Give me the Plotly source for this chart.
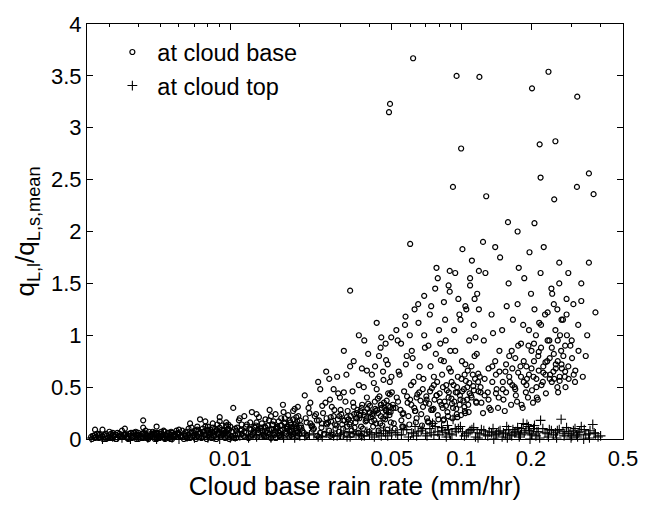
import math
import plotly.graph_objects as go

# ---- data: cloud base (circles) ----
base_x = [
    0.0025, 0.0026, 0.0027, 0.0028, 0.0029, 0.0030, 0.0031, 0.0032, 0.0033, 0.0034,
    0.0035, 0.0036, 0.0037, 0.0038, 0.0039, 0.0040, 0.0041, 0.0042, 0.0043, 0.0044,
    0.0045, 0.0046, 0.0047, 0.0048, 0.0049, 0.0050, 0.0051, 0.0052, 0.0053, 0.0054,
    0.0055, 0.0056, 0.0057, 0.0058, 0.0059, 0.0026, 0.0029, 0.0032, 0.0036, 0.0040,
    0.0044, 0.0048, 0.0052, 0.0056, 0.0027, 0.0031, 0.0035, 0.0039, 0.0043, 0.0047,
    0.00255, 0.00265, 0.00275, 0.00285, 0.00295, 0.00305, 0.00315, 0.00325, 0.00335, 0.00345,
    0.00355, 0.00365, 0.00375, 0.00385, 0.00395, 0.00405, 0.00415, 0.00425, 0.00435, 0.00445,
    0.00455, 0.00465, 0.00475, 0.00485, 0.00495, 0.00505, 0.00515, 0.00525, 0.00535, 0.00545,
    0.00555, 0.00565, 0.00575, 0.00585, 0.00595, 0.0026, 0.0030, 0.0034, 0.0038, 0.0042,
    0.0060, 0.0062, 0.0064, 0.0066, 0.0068, 0.0070, 0.0072, 0.0074, 0.0076, 0.0078,
    0.0080, 0.0082, 0.0084, 0.0086, 0.0088, 0.0090, 0.0092, 0.0094, 0.0096, 0.0098,
    0.0061, 0.0065, 0.0069, 0.0073, 0.0077, 0.0081, 0.0085, 0.0089, 0.0093, 0.0097,
    0.0063, 0.0067, 0.0071, 0.0075, 0.0079, 0.0083, 0.0087, 0.0091, 0.0095, 0.0099,
    0.0067, 0.0072, 0.0078, 0.0084, 0.0090, 0.0096, 0.0042, 0.0048, 0.0035, 0.0028,
    0.0060, 0.0062, 0.0064, 0.0066, 0.0068, 0.0070, 0.0072, 0.0074, 0.0076, 0.0078,
    0.0080, 0.0082, 0.0084, 0.0086, 0.0088, 0.0090, 0.0092, 0.0094, 0.0096, 0.0098,
    0.0100, 0.0103, 0.0106, 0.0109, 0.0112, 0.0115, 0.0118, 0.0121, 0.0124, 0.0127,
    0.0130, 0.0133, 0.0136, 0.0139, 0.0142, 0.0145, 0.0148, 0.0151, 0.0154, 0.0157,
    0.0160, 0.0163, 0.0166, 0.0169, 0.0172, 0.0175, 0.0178, 0.0181, 0.0184, 0.0187,
    0.0190, 0.0193, 0.0196, 0.0199, 0.0101, 0.0108, 0.0116, 0.0124, 0.0132, 0.0140,
    0.0148, 0.0156, 0.0164, 0.0172, 0.0180, 0.0188, 0.0196, 0.0104, 0.0120, 0.0135,
    0.0150, 0.0165, 0.0180, 0.0195, 0.0112, 0.0128, 0.0144, 0.0160, 0.0176, 0.0192,
    0.0102, 0.0107, 0.0112, 0.0117, 0.0122, 0.0127, 0.0132, 0.0137, 0.0142, 0.0147,
    0.0152, 0.0157, 0.0162, 0.0167, 0.0172, 0.0177, 0.0182, 0.0187, 0.0192, 0.0197,
    0.0105, 0.0115, 0.0125, 0.0135, 0.0145, 0.0155, 0.0165, 0.0175, 0.0185, 0.0195,
    0.0110, 0.0130, 0.0150, 0.0170, 0.0190, 0.0123, 0.0143, 0.0163, 0.0183, 0.0199,
    0.020, 0.021, 0.022, 0.023, 0.024, 0.025, 0.026, 0.027, 0.028, 0.029,
    0.030, 0.031, 0.032, 0.033, 0.034, 0.035, 0.036, 0.037, 0.038, 0.039,
    0.040, 0.041, 0.042, 0.043, 0.044, 0.045, 0.046, 0.047, 0.048, 0.049,
    0.0205, 0.0225, 0.0245, 0.0265, 0.0285, 0.0305, 0.0325, 0.0345, 0.0365, 0.0385,
    0.0405, 0.0425, 0.0445, 0.0465, 0.0485, 0.0215, 0.0255, 0.0295, 0.0335, 0.0375,
    0.0415, 0.0455, 0.0495, 0.0235, 0.0275, 0.0315, 0.0355, 0.0395, 0.0435, 0.0475,
    0.033, 0.036, 0.043, 0.047, 0.026, 0.039, 0.045, 0.031, 0.028, 0.049,
    0.0202, 0.0212, 0.0222, 0.0232, 0.0242, 0.0252, 0.0262, 0.0272, 0.0282, 0.0292,
    0.0302, 0.0312, 0.0322, 0.0332, 0.0342, 0.0352, 0.0362, 0.0372, 0.0382, 0.0392,
    0.0402, 0.0412, 0.0422, 0.0432, 0.0442, 0.0452, 0.0462, 0.0472, 0.0482, 0.0492,
    0.0208, 0.0228, 0.0248, 0.0268, 0.0288, 0.0308, 0.0328, 0.0348, 0.0368, 0.0388,
    0.0408, 0.0428, 0.0448, 0.0468, 0.0488, 0.0218, 0.0258, 0.0298, 0.0338, 0.0378,
    0.0418, 0.0458, 0.0498, 0.0238, 0.0278, 0.0318, 0.0358, 0.0398, 0.0438, 0.0478,
    0.050, 0.052, 0.054, 0.056, 0.058, 0.060, 0.062, 0.064, 0.066, 0.068,
    0.070, 0.072, 0.074, 0.076, 0.078, 0.080, 0.082, 0.084, 0.086, 0.088,
    0.090, 0.092, 0.094, 0.096, 0.098, 0.100, 0.102, 0.104, 0.106, 0.108,
    0.110, 0.112, 0.114, 0.116, 0.118, 0.051, 0.055, 0.059, 0.063, 0.067,
    0.071, 0.075, 0.079, 0.083, 0.087, 0.091, 0.095, 0.099, 0.103, 0.107,
    0.053, 0.057, 0.061, 0.065, 0.069, 0.073, 0.077, 0.081, 0.085, 0.089,
    0.093, 0.097, 0.101, 0.105, 0.109, 0.113, 0.117, 0.060, 0.078, 0.088,
    0.111, 0.115, 0.119, 0.056, 0.072, 0.084, 0.096, 0.104, 0.064, 0.076,
    0.0505, 0.0525, 0.0545, 0.0565, 0.0585, 0.0605, 0.0625, 0.0645, 0.0665, 0.0685,
    0.0705, 0.0725, 0.0745, 0.0765, 0.0785, 0.0805, 0.0825, 0.0845, 0.0865, 0.0885,
    0.0905, 0.0925, 0.0945, 0.0965, 0.0985, 0.1005, 0.1025, 0.1045, 0.1065, 0.1085,
    0.1105, 0.1125, 0.1145, 0.1165, 0.1185, 0.0515, 0.0555, 0.0595, 0.0635, 0.0675,
    0.0715, 0.0755, 0.0795, 0.0835, 0.0875, 0.0915, 0.0955, 0.0995, 0.1035, 0.1075,
    0.0535, 0.0575, 0.0615, 0.0655, 0.0695, 0.0735, 0.0775, 0.0815, 0.0855, 0.0895,
    0.0618, 0.0491, 0.0486, 0.0953, 0.1196, 0.0997, 0.0919, 0.128,
    0.120, 0.125, 0.130, 0.135, 0.140, 0.145, 0.150, 0.155, 0.160, 0.165,
    0.170, 0.175, 0.180, 0.185, 0.190, 0.195, 0.200, 0.205, 0.210, 0.215,
    0.220, 0.225, 0.230, 0.235, 0.240, 0.245, 0.250, 0.255, 0.260, 0.265,
    0.270, 0.275, 0.280, 0.285, 0.290, 0.300, 0.310, 0.320, 0.330, 0.345,
    0.122, 0.132, 0.142, 0.152, 0.162, 0.172, 0.182, 0.192, 0.202, 0.212,
    0.222, 0.232, 0.242, 0.252, 0.262, 0.272, 0.282, 0.127, 0.147, 0.167,
    0.187, 0.207, 0.227, 0.247, 0.267, 0.137, 0.157, 0.177, 0.197, 0.217,
    0.121, 0.126, 0.131, 0.136, 0.141, 0.146, 0.151, 0.156, 0.161, 0.166,
    0.171, 0.176, 0.181, 0.186, 0.191, 0.196, 0.201, 0.206, 0.211, 0.216,
    0.221, 0.226, 0.231, 0.236, 0.241, 0.246, 0.251, 0.256, 0.261, 0.266,
    0.124, 0.134, 0.144, 0.154, 0.164, 0.174, 0.184, 0.194, 0.204, 0.214,
    0.271, 0.281, 0.291, 0.301, 0.311, 0.321, 0.335, 0.350, 0.285, 0.260,
    0.238, 0.202, 0.317, 0.218, 0.255, 0.220, 0.356, 0.316, 0.373, 0.252,
    0.159, 0.207, 0.356, 0.380, 0.330, 0.140, 0.175, 0.290, 0.305, 0.265,
    0.0081, 0.0087, 0.0093, 0.0099, 0.0105, 0.0111, 0.0117, 0.0123, 0.0129, 0.0135,
    0.0141, 0.0147, 0.0153, 0.0159, 0.0165, 0.0171, 0.0177, 0.0183, 0.0189, 0.0195,
    0.0203, 0.0214, 0.0226, 0.0237, 0.0249, 0.0261, 0.0273, 0.0284, 0.0296, 0.0308,
    0.0319, 0.0331, 0.0343, 0.0354, 0.0366, 0.0378, 0.0389, 0.0401, 0.0413, 0.0424,
    0.0436, 0.0448, 0.0459, 0.0471, 0.0483, 0.0494, 0.0507, 0.0532, 0.0557, 0.0582,
    0.0607, 0.0632, 0.0657, 0.0682, 0.0707, 0.0732, 0.0757, 0.0782, 0.0807, 0.0832,
    0.0857, 0.0882, 0.0907, 0.0932, 0.0957, 0.0982, 0.1007, 0.1032, 0.1057, 0.1082,
    0.1107, 0.1132, 0.1157, 0.1182, 0.1210, 0.1260, 0.1310, 0.1360, 0.1410, 0.1460,
    0.1510, 0.1560, 0.1610, 0.1660, 0.1710, 0.1760, 0.1810, 0.1860, 0.1910, 0.1960,
    0.2010, 0.2060, 0.2110, 0.2160, 0.2210, 0.2260, 0.2310, 0.2360, 0.2410, 0.2460,
    0.2510, 0.2560, 0.2610, 0.2660, 0.2710, 0.2760, 0.2810, 0.2860, 0.2960, 0.3060,
    0.0222, 0.0245, 0.0268, 0.0293, 0.0318, 0.0342, 0.0371, 0.0395, 0.0423, 0.0447,
    0.0472, 0.0497, 0.0523, 0.0548, 0.0573, 0.0598, 0.0627, 0.0652, 0.0690, 0.0740,
    0.0790, 0.0840, 0.0890, 0.0940, 0.0990, 0.1040, 0.1090, 0.1140, 0.1190, 0.1240,
    0.0106, 0.0131, 0.0157, 0.0186, 0.0214, 0.0242, 0.0271, 0.0303, 0.0336, 0.0369,
    0.00252, 0.00262, 0.00272, 0.00282, 0.00292, 0.00302, 0.00312, 0.00322, 0.00332, 0.00342,
    0.00352, 0.00362, 0.00372, 0.00382, 0.00392, 0.00402, 0.00412, 0.00422, 0.00432, 0.00442,
    0.00452, 0.00462, 0.00472, 0.00482, 0.00492, 0.00502, 0.00512, 0.00522, 0.00532, 0.00542,
    0.00552, 0.00572, 0.00592, 0.00612, 0.00632, 0.00652, 0.00672, 0.00692, 0.00712, 0.00732,
    0.00752, 0.00772, 0.00792, 0.00812, 0.00832, 0.00852, 0.00872, 0.00892, 0.00912, 0.00932,
    0.00952, 0.00972, 0.00992, 0.0114, 0.0126, 0.0138, 0.0153, 0.0168, 0.0181, 0.0194,
]
base_y = [
    0.02, 0.04, 0.01, 0.03, 0.05, 0.02, 0.01, 0.04, 0.03, 0.02,
    0.05, 0.01, 0.03, 0.02, 0.04, 0.06, 0.02, 0.01, 0.05, 0.03,
    0.02, 0.04, 0.06, 0.01, 0.03, 0.05, 0.02, 0.07, 0.03, 0.01,
    0.04, 0.06, 0.02, 0.03, 0.05, 0.01, 0.00, 0.00, 0.01, 0.00,
    0.01, 0.00, 0.01, 0.00, 0.05, 0.06, 0.04, 0.07, 0.08, 0.05,
    0.03, 0.05, 0.02, 0.04, 0.01, 0.05, 0.03, 0.06, 0.02, 0.04,
    0.02, 0.05, 0.01, 0.06, 0.03, 0.02, 0.05, 0.04, 0.01, 0.07,
    0.05, 0.02, 0.04, 0.06, 0.01, 0.03, 0.08, 0.04, 0.06, 0.02,
    0.07, 0.03, 0.05, 0.08, 0.02, 0.09, 0.07, 0.08, 0.06, 0.11,
    0.05, 0.08, 0.03, 0.10, 0.06, 0.04, 0.09, 0.19, 0.07, 0.12,
    0.08, 0.05, 0.11, 0.07, 0.14, 0.21, 0.09, 0.06, 0.13, 0.10,
    0.02, 0.01, 0.03, 0.02, 0.04, 0.02, 0.03, 0.05, 0.04, 0.03,
    0.00, 0.01, 0.00, 0.01, 0.00, 0.01, 0.00, 0.02, 0.01, 0.00,
    0.15, 0.12, 0.17, 0.15, 0.17, 0.16, 0.18, 0.12, 0.10, 0.09,
    0.09, 0.02, 0.07, 0.04, 0.11, 0.08, 0.03, 0.06, 0.10, 0.04,
    0.12, 0.09, 0.06, 0.10, 0.05, 0.11, 0.13, 0.08, 0.07, 0.14,
    0.12, 0.30, 0.08, 0.18, 0.05, 0.22, 0.14, 0.10, 0.26, 0.07,
    0.16, 0.21, 0.11, 0.04, 0.19, 0.13, 0.28, 0.09, 0.17, 0.24,
    0.12, 0.06, 0.20, 0.33, 0.15, 0.10, 0.23, 0.18, 0.08, 0.27,
    0.14, 0.21, 0.31, 0.11, 0.03, 0.05, 0.02, 0.04, 0.06, 0.03,
    0.05, 0.07, 0.04, 0.06, 0.09, 0.05, 0.07, 0.01, 0.01, 0.02,
    0.01, 0.02, 0.02, 0.03, 0.09, 0.11, 0.08, 0.10, 0.12, 0.10,
    0.07, 0.11, 0.14, 0.06, 0.16, 0.12, 0.09, 0.15, 0.11, 0.18,
    0.14, 0.10, 0.17, 0.13, 0.20, 0.12, 0.16, 0.19, 0.15, 0.22,
    0.04, 0.07, 0.05, 0.08, 0.06, 0.04, 0.08, 0.05, 0.11, 0.06,
    0.20, 0.24, 0.22, 0.26, 0.29, 0.02, 0.03, 0.03, 0.04, 0.05,
    0.18, 0.42, 0.25, 0.10, 0.55, 0.32, 0.15, 0.38, 0.22, 0.60,
    0.28, 0.45, 0.12, 0.70, 0.35, 0.20, 0.52, 0.30, 0.95, 0.40,
    0.25, 0.62, 0.18, 0.48, 0.80, 0.33, 0.57, 0.22, 0.72, 0.43,
    0.08, 0.12, 0.06, 0.16, 0.10, 0.14, 0.19, 0.11, 0.23, 0.17,
    0.21, 0.27, 0.15, 0.30, 0.26, 0.04, 0.05, 0.07, 0.08, 0.10,
    0.12, 0.13, 0.16, 0.24, 0.31, 0.36, 0.28, 0.34, 0.39, 0.37,
    1.43, 1.00, 1.12, 0.92, 0.65, 0.66, 0.98, 0.85, 0.48, 0.55,
    0.13, 0.20, 0.15, 0.22, 0.18, 0.25, 0.14, 0.21, 0.28, 0.19,
    0.24, 0.18, 0.27, 0.22, 0.31, 0.25, 0.20, 0.33, 0.26, 0.29,
    0.32, 0.24, 0.36, 0.28, 0.41, 0.30, 0.35, 0.27, 0.44, 0.31,
    0.06, 0.09, 0.11, 0.08, 0.13, 0.10, 0.14, 0.16, 0.12, 0.20,
    0.17, 0.15, 0.22, 0.19, 0.23, 0.30, 0.35, 0.40, 0.46, 0.50,
    0.54, 0.65, 0.60, 0.03, 0.04, 0.05, 0.06, 0.07, 0.08, 0.09,
    0.45, 0.30, 0.62, 0.25, 0.80, 0.38, 0.55, 0.20, 0.70, 0.48,
    0.35, 0.90, 0.28, 0.60, 0.42, 1.05, 0.33, 0.75, 0.52, 0.40,
    0.65, 0.30, 0.85, 0.45, 1.20, 0.58, 0.37, 0.72, 0.50, 0.95,
    0.42, 0.62, 0.80, 0.35, 0.55, 0.15, 0.18, 0.22, 0.27, 0.24,
    0.20, 0.28, 0.23, 0.30, 0.26, 0.34, 0.29, 0.38, 0.31, 0.33,
    0.95, 1.10, 0.85, 1.30, 1.00, 1.20, 1.45, 0.92, 1.15, 1.62,
    1.05, 1.35, 1.83, 1.25, 1.55, 1.10, 1.40, 1.88, 1.65, 1.48,
    1.72, 0.98, 1.25, 0.12, 0.16, 0.19, 0.21, 0.25, 0.40, 0.52,
    0.33, 0.40, 0.28, 0.46, 0.35, 0.52, 0.30, 0.43, 0.37, 0.58,
    0.41, 0.34, 0.49, 0.38, 0.55, 0.44, 0.62, 0.36, 0.47, 0.68,
    0.39, 0.52, 0.45, 0.60, 0.42, 0.75, 0.48, 0.56, 0.66, 0.44,
    0.70, 0.51, 0.58, 0.82, 0.46, 0.10, 0.12, 0.14, 0.16, 0.13,
    0.17, 0.15, 0.19, 0.18, 0.22, 0.20, 0.24, 0.23, 0.27, 0.26,
    0.65, 0.72, 0.78, 0.60, 0.88, 0.70, 0.82, 0.76, 0.95, 0.85,
    3.67, 3.23, 3.15, 3.50, 3.49, 2.80, 2.43, 2.34,
    0.60, 0.95, 0.45, 1.20, 0.75, 0.40, 1.05, 0.65, 1.50, 0.85,
    0.50, 1.30, 0.70, 1.10, 0.45, 0.90, 1.40, 0.60, 1.00, 0.80,
    1.60, 0.55, 1.20, 0.75, 0.95, 1.45, 0.65, 1.05, 0.50, 1.70,
    0.85, 1.15, 0.60, 1.35, 0.70, 0.95, 0.55, 1.10, 1.33, 0.80,
    0.35, 0.30, 0.48, 0.38, 0.55, 0.42, 0.33, 0.58, 0.47, 0.40,
    0.52, 0.44, 0.62, 0.58, 0.45, 0.68, 0.50, 1.60, 1.75, 1.15,
    1.55, 1.25, 1.85, 1.40, 1.00, 1.02, 1.28, 1.65, 1.80, 1.12,
    0.50, 0.42, 0.68, 0.55, 0.62, 0.85, 0.48, 0.72, 0.60, 0.52,
    0.78, 0.64, 0.92, 0.55, 0.70, 0.62, 0.85, 0.75, 0.58, 0.66,
    0.88, 0.70, 0.62, 0.95, 0.78, 0.55, 0.82, 0.68, 0.75, 0.60,
    0.25, 0.28, 0.30, 0.27, 0.33, 0.36, 0.30, 0.40, 0.35, 0.38,
    0.72, 0.90, 0.58, 0.78, 0.66, 0.85, 0.60, 1.00, 1.20, 1.25,
    3.54, 3.38, 3.30, 2.84, 2.87, 2.52, 2.56, 2.43, 2.36, 2.31,
    2.09, 2.08, 1.70, 1.22, 1.50, 1.85, 2.00, 1.60, 1.30, 1.50,
    0.06, 0.08, 0.05, 0.09, 0.10, 0.08, 0.12, 0.09, 0.13, 0.10,
    0.12, 0.09, 0.14, 0.11, 0.13, 0.16, 0.10, 0.14, 0.12, 0.17,
    0.11, 0.16, 0.13, 0.18, 0.15, 0.20, 0.17, 0.14, 0.22, 0.18,
    0.21, 0.16, 0.24, 0.20, 0.27, 0.23, 0.18, 0.26, 0.22, 0.29,
    0.25, 0.33, 0.20, 0.28, 0.32, 0.26, 0.30, 0.36, 0.24, 0.41,
    0.33, 0.27, 0.45, 0.31, 0.38, 0.46, 0.29, 0.42, 0.36, 0.50,
    0.32, 0.45, 0.55, 0.36, 0.50, 0.33, 0.46, 0.62, 0.38, 0.54,
    0.40, 0.47, 0.36, 0.63, 0.45, 0.58, 0.38, 0.70, 0.44, 0.65,
    0.55, 0.45, 0.80, 0.68, 0.48, 0.90, 0.60, 0.75, 0.52, 1.05,
    0.68, 0.92, 0.50, 0.84, 1.10, 0.64, 0.74, 1.22, 0.58, 0.88,
    1.30, 0.72, 0.95, 0.56, 1.15, 0.80, 0.65, 1.00, 0.90, 0.62,
    0.35, 0.48, 0.58, 0.44, 0.62, 0.75, 0.68, 0.82, 0.70, 0.88,
    0.76, 0.98, 1.05, 0.92, 1.18, 1.00, 1.25, 1.12, 1.38, 1.28,
    1.55, 1.32, 1.42, 1.60, 1.15, 1.28, 1.48, 1.35, 1.62, 1.90,
    0.01, 0.02, 0.01, 0.02, 0.03, 0.02, 0.03, 0.02, 0.04, 0.03,
    0.00, 0.02, 0.04, 0.00, 0.03, 0.01, 0.04, 0.00, 0.05, 0.02,
    0.04, 0.00, 0.06, 0.03, 0.00, 0.04, 0.01, 0.06, 0.03, 0.00,
    0.03, 0.07, 0.00, 0.05, 0.02, 0.07, 0.04, 0.00, 0.03, 0.06,
    0.00, 0.04, 0.06, 0.03, 0.05, 0.07, 0.02, 0.06, 0.08, 0.05,
    0.03, 0.07, 0.09, 0.04, 0.07, 0.03, 0.09, 0.06, 0.04, 0.08,
    0.06, 0.09, 0.04, 0.03, 0.06, 0.08, 0.06, 0.09, 0.07, 0.08,
]

# ---- data: cloud top (plus signs) ----
top_x = [
    0.0025, 0.0028, 0.0031, 0.0034, 0.0037, 0.0040, 0.0044, 0.0048, 0.0052, 0.0056,
    0.0060, 0.0065, 0.0070, 0.0075, 0.0080, 0.0085, 0.0090, 0.0095, 0.0100, 0.0105,
    0.011, 0.012, 0.013, 0.014, 0.015, 0.016, 0.017, 0.018, 0.019, 0.020,
    0.022, 0.024, 0.026, 0.028, 0.030, 0.032, 0.034, 0.036, 0.038, 0.040,
    0.042, 0.044, 0.046, 0.048, 0.050, 0.053, 0.056, 0.059, 0.062, 0.065,
    0.068, 0.071, 0.074, 0.077, 0.080, 0.083, 0.086, 0.089, 0.092, 0.095,
    0.099, 0.103, 0.107, 0.111, 0.115, 0.120, 0.125, 0.130, 0.135, 0.140,
    0.145, 0.150, 0.155, 0.160, 0.165, 0.170, 0.175, 0.180, 0.185, 0.190,
    0.195, 0.200, 0.205, 0.210, 0.215, 0.220, 0.230, 0.240, 0.250, 0.260,
    0.270, 0.280, 0.290, 0.300, 0.310, 0.320, 0.330, 0.345, 0.360, 0.370,
    0.380, 0.390, 0.400, 0.063, 0.075, 0.087, 0.097, 0.118, 0.138, 0.158,
    0.178, 0.198, 0.218, 0.238, 0.258, 0.278, 0.298, 0.318, 0.338, 0.358,
    0.0150, 0.0170, 0.0210, 0.0230, 0.0250, 0.0270, 0.0290, 0.0310, 0.0330, 0.0350,
    0.0370, 0.0390, 0.0410, 0.0430, 0.0450, 0.0470, 0.0490, 0.0520, 0.0550, 0.0580,
    0.0610, 0.0640, 0.0670, 0.0700, 0.0730, 0.0760, 0.0790, 0.0820, 0.0850, 0.0880,
    0.091, 0.094, 0.101, 0.105, 0.109, 0.113, 0.117, 0.122, 0.127, 0.132,
    0.137, 0.142, 0.147, 0.152, 0.157, 0.162, 0.167, 0.172, 0.177, 0.182,
    0.187, 0.192, 0.197, 0.202, 0.207, 0.212, 0.225, 0.235, 0.245, 0.255,
    0.265, 0.275, 0.285, 0.295, 0.305, 0.315, 0.325, 0.340, 0.355, 0.375,
]
top_y = [
    0.01, 0.00, 0.02, 0.01, 0.00, 0.02, 0.01, 0.00, 0.02, 0.01,
    0.00, 0.02, 0.01, 0.03, 0.01, 0.02, 0.00, 0.03, 0.01, 0.02,
    0.03, 0.01, 0.02, 0.04, 0.01, 0.03, 0.02, 0.05, 0.01, 0.03,
    0.04, 0.02, 0.06, 0.03, 0.05, 0.02, 0.07, 0.04, 0.03, 0.06,
    0.02, 0.05, 0.08, 0.03, 0.06, 0.04, 0.09, 0.02, 0.05, 0.07,
    0.10, 0.03, 0.06, 0.12, 0.04, 0.08, 0.02, 0.05, 0.19, 0.07,
    0.12, 0.03, 0.06, 0.09, 0.02, 0.05, 0.08, 0.03, 0.06, 0.04,
    0.07, 0.02, 0.05, 0.09, 0.03, 0.06, 0.11, 0.04, 0.15, 0.08,
    0.12, 0.05, 0.10, 0.03, 0.07, 0.18, 0.06, 0.09, 0.04, 0.08,
    0.19, 0.05, 0.07, 0.03, 0.10, 0.06, 0.12, 0.04, 0.08, 0.14,
    0.05, 0.02, 0.03, 0.12, 0.15, 0.13, 0.10, 0.01, 0.00, 0.01,
    0.02, 0.00, 0.01, 0.02, 0.01, 0.03, 0.01, 0.02, 0.00, 0.01,
    0.02, 0.01, 0.03, 0.05, 0.02, 0.04, 0.03, 0.06, 0.02, 0.05,
    0.03, 0.07, 0.04, 0.06, 0.03, 0.05, 0.08, 0.06, 0.04, 0.09,
    0.06, 0.03, 0.08, 0.05, 0.10, 0.04, 0.07, 0.11, 0.06, 0.09,
    0.04, 0.10, 0.07, 0.05, 0.08, 0.11, 0.06, 0.09, 0.04, 0.07,
    0.10, 0.05, 0.08, 0.06, 0.12, 0.04, 0.09, 0.07, 0.05, 0.10,
    0.06, 0.14, 0.08, 0.04, 0.13, 0.07, 0.10, 0.05, 0.08, 0.06,
    0.09, 0.07, 0.11, 0.05, 0.08, 0.04, 0.07, 0.09, 0.05, 0.06,
]

x_tick_vals = [0.01, 0.05, 0.1, 0.2, 0.5]
x_tick_text = ["0.01", "0.05", "0.1", "0.2", "0.5"]
x_minor_vals = [0.003, 0.004, 0.005, 0.006, 0.007, 0.008, 0.009,
                0.02, 0.03, 0.04, 0.06, 0.07, 0.08, 0.09, 0.3, 0.4]
y_tick_vals = [0, 0.5, 1, 1.5, 2, 2.5, 3, 3.5, 4]
x_range = [0.0024, 0.5]
y_range = [0, 4]

FONT = "Liberation Sans, Arial, Helvetica, sans-serif"

fig = go.Figure()
fig.add_trace(go.Scatter(
    x=base_x, y=base_y, mode="markers", name="at cloud base",
    marker=dict(symbol="circle-open", size=5, color="black", line=dict(width=1.2, color="black")),
    cliponaxis=False,
))
fig.add_trace(go.Scatter(
    x=top_x, y=top_y, mode="markers", name="at cloud top",
    marker=dict(symbol="cross-thin-open", size=7, color="black", line=dict(width=1.1, color="black")),
    cliponaxis=False,
))

fig.update_layout(
    width=650, height=506,
    margin=dict(l=87, r=16, t=15, b=60),
    paper_bgcolor="white", plot_bgcolor="white",
    font=dict(family=FONT, size=22, color="black"),
    showlegend=True,
    legend=dict(x=0.038, y=0.985, xanchor="left", yanchor="top",
                bgcolor="rgba(0,0,0,0)", borderwidth=0,
                font=dict(size=23.5), itemwidth=40),
    xaxis=dict(
        type="log", range=[math.log10(x_range[0]), math.log10(x_range[1])],
        tickmode="array", tickvals=x_tick_vals, ticktext=x_tick_text,
        ticks="inside", ticklen=6, tickwidth=1, tickcolor="black",
        showline=True, linecolor="black", linewidth=1, mirror="allticks",
        showgrid=False, zeroline=False,
        minor=dict(tickmode="array", tickvals=x_minor_vals, ticks="inside",
                   ticklen=3, tickcolor="black", showgrid=False),
        title=dict(text="Cloud base rain rate (mm/hr)", standoff=4),
        tickfont=dict(size=22),
    ),
    yaxis=dict(
        range=y_range, tickmode="array", tickvals=y_tick_vals,
        ticks="inside", ticklen=6, tickwidth=1, tickcolor="black",
        showline=True, linecolor="black", linewidth=1, mirror="allticks",
        showgrid=False, zeroline=False,
        title=dict(text="q<sub>L,l</sub>/q<sub>L,s,mean</sub>", standoff=8),
        tickfont=dict(size=22),
    ),
)

fig.write_html("out.html")
